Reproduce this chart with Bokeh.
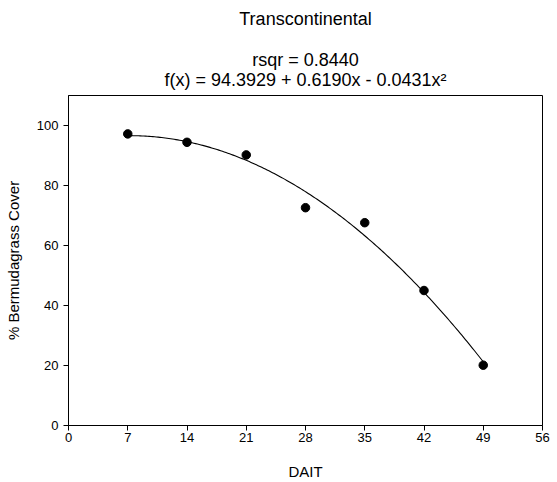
import numpy as np
from bokeh.plotting import figure
from bokeh.layouts import column
from bokeh.models import Range1d, FixedTicker, Label
from bokeh.embed import file_html
from bokeh.resources import INLINE

# Data
dait = [7, 14, 21, 28, 35, 42, 49]
cover = [97.2, 94.4, 90.2, 72.6, 67.6, 45.0, 20.1]
coef = [94.3929, 0.6190, -0.0431]   # fitted quadratic from the chart text
x_ticks = [0, 7, 14, 21, 28, 35, 42, 49, 56]
y_ticks = [0, 20, 40, 60, 80, 100]
title_text = "Transcontinental"
rsqr_text = "rsqr = 0.8440"
fx_text = "f(x) = 94.3929 + 0.6190x - 0.0431x²"

FONT = "Liberation Sans"
W = 557
TOP_H = 94

# ---- title strip (frame aligned with the main plot's frame horizontally) ----
t = figure(width=W, height=TOP_H, output_backend="svg", toolbar_location=None,
           title=None, x_range=Range1d(0, 56), y_range=Range1d(0, TOP_H),
           min_border=0, x_axis_location=None, y_axis_location=None)
t.grid.visible = False
t.outline_line_color = None
for txt, base_from_top in ((title_text, 18.5), (rsqr_text, 59.3), (fx_text, 79.3)):
    t.add_layout(Label(x=28, y=TOP_H - base_from_top, text=txt,
                       text_align="center", text_baseline="alphabetic",
                       text_font=FONT, text_font_size="18px",
                       text_color="black"))

# ---- main plot ----
p = figure(width=W, height=482 - TOP_H, output_backend="svg", toolbar_location=None,
           x_range=Range1d(0, 56), y_range=Range1d(0, 110))
p.min_border_left = 68
p.min_border_right = 15
p.min_border_top = 1
p.min_border_bottom = 57

p.grid.visible = False
p.outline_line_color = "black"
p.outline_line_width = 1
p.outline_line_alpha = 1

for ax, ticks in ((p.xaxis[0], x_ticks), (p.yaxis[0], y_ticks)):
    ax.ticker = FixedTicker(ticks=ticks)
    ax.minor_tick_line_color = None
    ax.major_tick_in = 0
    ax.major_tick_out = 5
    ax.major_tick_line_color = "black"
    ax.axis_line_color = "black"
    ax.major_label_text_font = FONT
    ax.major_label_text_font_size = "13px"
    ax.major_label_text_color = "black"
    ax.axis_label_text_font = FONT
    ax.axis_label_text_font_size = "15px"
    ax.axis_label_text_font_style = "normal"
    ax.axis_label_text_color = "black"

p.xaxis.axis_label = "DAIT"
p.yaxis.axis_label = "% Bermudagrass Cover"
p.xaxis.major_label_standoff = 2
p.xaxis.axis_label_standoff = 18
p.yaxis.major_label_standoff = 5
p.yaxis.axis_label_standoff = 12

# fitted curve
xs = np.linspace(min(dait), max(dait), 200)
ys = coef[0] + coef[1] * xs + coef[2] * xs ** 2
p.line(xs, ys, line_color="black", line_width=1.1)

p.scatter(dait, cover, size=8.5, color="black")

layout = column(t, p, spacing=0)
open("out.html", "w").write(file_html(layout, INLINE))
